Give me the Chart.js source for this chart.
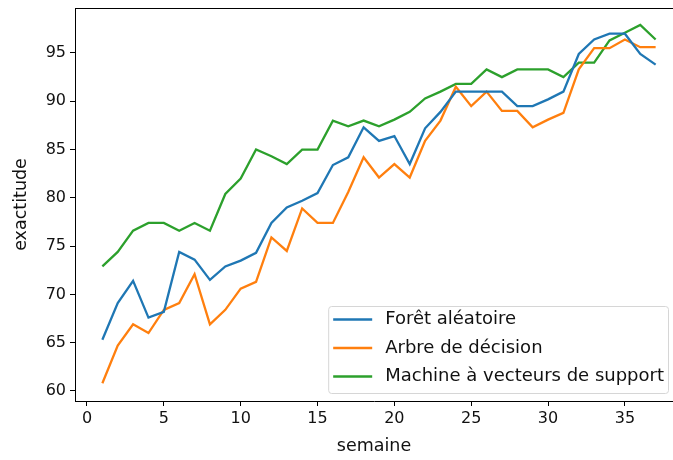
<!DOCTYPE html>
<html>
<head>
<meta charset="utf-8">
<script src="https://cdn.jsdelivr.net/npm/chart.js@4/dist/chart.umd.min.js"></script>
<style>
  html, body { margin: 0; padding: 0; background: #fff; overflow: hidden; }
  #wrap { width: 673px; height: 460px; }
</style>
</head>
<body>
<div id="wrap"><canvas id="accChart"></canvas></div>
<script>
const semaines = [1, 2, 3, 4, 5, 6, 7, 8, 9, 10, 11, 12, 13, 14, 15, 16, 17, 18, 19,
  20, 21, 22, 23, 24, 25, 26, 27, 28, 29, 30, 31, 32, 33, 34, 35, 36, 37];

const foretAleatoire = [65.3, 69.1, 71.4, 67.6, 68.2, 74.4, 73.6, 71.5, 72.9, 73.5,
  74.3, 77.4, 79.0, 79.7, 80.5, 83.4, 84.2, 87.3, 85.9, 86.4, 83.5, 87.2, 88.9, 91.0,
  91.0, 91.0, 91.0, 89.5, 89.5, 90.2, 91.0, 94.9, 96.4, 97.0, 97.0, 94.9, 93.8];

const arbreDecision = [60.8, 64.7, 66.9, 66.0, 68.4, 69.1, 72.1, 66.9, 68.4, 70.6,
  71.3, 75.9, 74.5, 78.9, 77.4, 77.4, 80.6, 84.2, 82.1, 83.5, 82.1, 85.9, 88.0, 91.5,
  89.5, 91.0, 89.0, 89.0, 87.3, 88.1, 88.8, 93.3, 95.5, 95.5, 96.4, 95.6, 95.6];

const machineVecteurs = [72.9, 74.4, 76.6, 77.4, 77.4, 76.6, 77.4, 76.6, 80.4, 82.0,
  85.0, 84.3, 83.5, 85.0, 85.0, 88.0, 87.4, 88.0, 87.4, 88.1, 88.9, 90.3, 91.0, 91.8,
  91.8, 93.3, 92.5, 93.3, 93.3, 93.3, 92.5, 94.0, 94.0, 96.3, 97.1, 97.9, 96.4];

const seriesNames = ['Forêt aléatoire', 'Arbre de décision', 'Machine à vecteurs de support'];
const xTicks = [0, 5, 10, 15, 20, 25, 30, 35];
const yTicks = [60, 65, 70, 75, 80, 85, 90, 95];

const FONT = 'DejaVu Sans';

function toPoints(vals) {
  return semaines.map((w, i) => ({ x: w, y: vals[i] }));
}

// legend box in the lower right + top spine, matplotlib style
// (the right spine falls outside the cropped picture, so it is not drawn)
const mplExtras = {
  id: 'mplExtras',
  afterDraw(chart) {
    const ctx = chart.ctx;
    const a = chart.chartArea;
    ctx.save();
    ctx.strokeStyle = '#000';
    ctx.lineWidth = 1;
    ctx.beginPath();
    ctx.moveTo(a.left, a.top + 0.5);
    ctx.lineTo(a.right, a.top + 0.5);
    ctx.stroke();

    ctx.font = '18px "' + FONT + '"';
    let textW = 0;
    chart.data.datasets.forEach(ds => { textW = Math.max(textW, ctx.measureText(ds.label).width); });
    const boxW = 5 + 39 + 13 + textW + 4;
    const boxH = 87;
    const boxX = 668 - boxW;
    const boxY = 306;
    ctx.fillStyle = 'rgba(255,255,255,0.8)';
    ctx.strokeStyle = '#d6d6d6';
    ctx.beginPath();
    ctx.roundRect(boxX + 0.5, boxY + 0.5, boxW, boxH, 3);
    ctx.fill();
    ctx.stroke();

    ctx.textBaseline = 'middle';
    chart.data.datasets.forEach((ds, i) => {
      const yy = boxY + 13.5 + i * 28.5;
      ctx.strokeStyle = ds.borderColor;
      ctx.lineWidth = 2.3;
      ctx.beginPath();
      ctx.moveTo(boxX + 5, yy);
      ctx.lineTo(boxX + 44, yy);
      ctx.stroke();
      ctx.fillStyle = '#111';
      ctx.fillText(ds.label, boxX + 57, yy);
    });
    ctx.restore();
  }
};

new Chart(document.getElementById('accChart'), {
  type: 'line',
  data: {
    datasets: [
      { label: seriesNames[0], data: toPoints(foretAleatoire), borderColor: '#1f77b4' },
      { label: seriesNames[1], data: toPoints(arbreDecision), borderColor: '#ff7f0e' },
      { label: seriesNames[2], data: toPoints(machineVecteurs), borderColor: '#2ca02c' }
    ].map(d => Object.assign(d, { borderWidth: 2.3, pointRadius: 0, tension: 0, fill: false }))
  },
  options: {
    responsive: true,
    maintainAspectRatio: false,
    animation: false,
    layout: { padding: { top: 8, right: 0, left: 0, bottom: 0 } },
    plugins: { legend: { display: false }, tooltip: { enabled: false } },
    scales: {
      x: {
        type: 'linear',
        min: -0.78,
        max: 38.13,
        afterBuildTicks: s => { s.ticks = xTicks.map(v => ({ value: v })); },
        afterFit: s => { s.height = 59; s.paddingLeft = 0; s.paddingRight = 0; },
        grid: { drawOnChartArea: false, drawTicks: true, tickLength: 5, color: '#000' },
        border: { display: true, color: '#000', width: 1 },
        ticks: { color: '#111', font: { family: FONT, size: 16 }, padding: 3, maxRotation: 0 },
        title: { display: true, text: 'semaine', color: '#111', font: { family: FONT, size: 17.5 }, padding: { top: 0, bottom: 3 } }
      },
      y: {
        min: 58.96,
        max: 99.66,
        afterBuildTicks: s => { s.ticks = yTicks.map(v => ({ value: v })); },
        afterFit: s => { s.width = 75; s.paddingTop = 0; s.paddingBottom = 0; },
        grid: { drawOnChartArea: false, drawTicks: true, tickLength: 5, color: '#000' },
        border: { display: true, color: '#000', width: 1 },
        ticks: { color: '#111', font: { family: FONT, size: 16 }, padding: 4 },
        title: { display: true, text: 'exactitude', color: '#111', font: { family: FONT, size: 17.5 }, padding: { top: 11, bottom: 0 } }
      }
    }
  },
  plugins: [mplExtras]
});
</script>
</body>
</html>
